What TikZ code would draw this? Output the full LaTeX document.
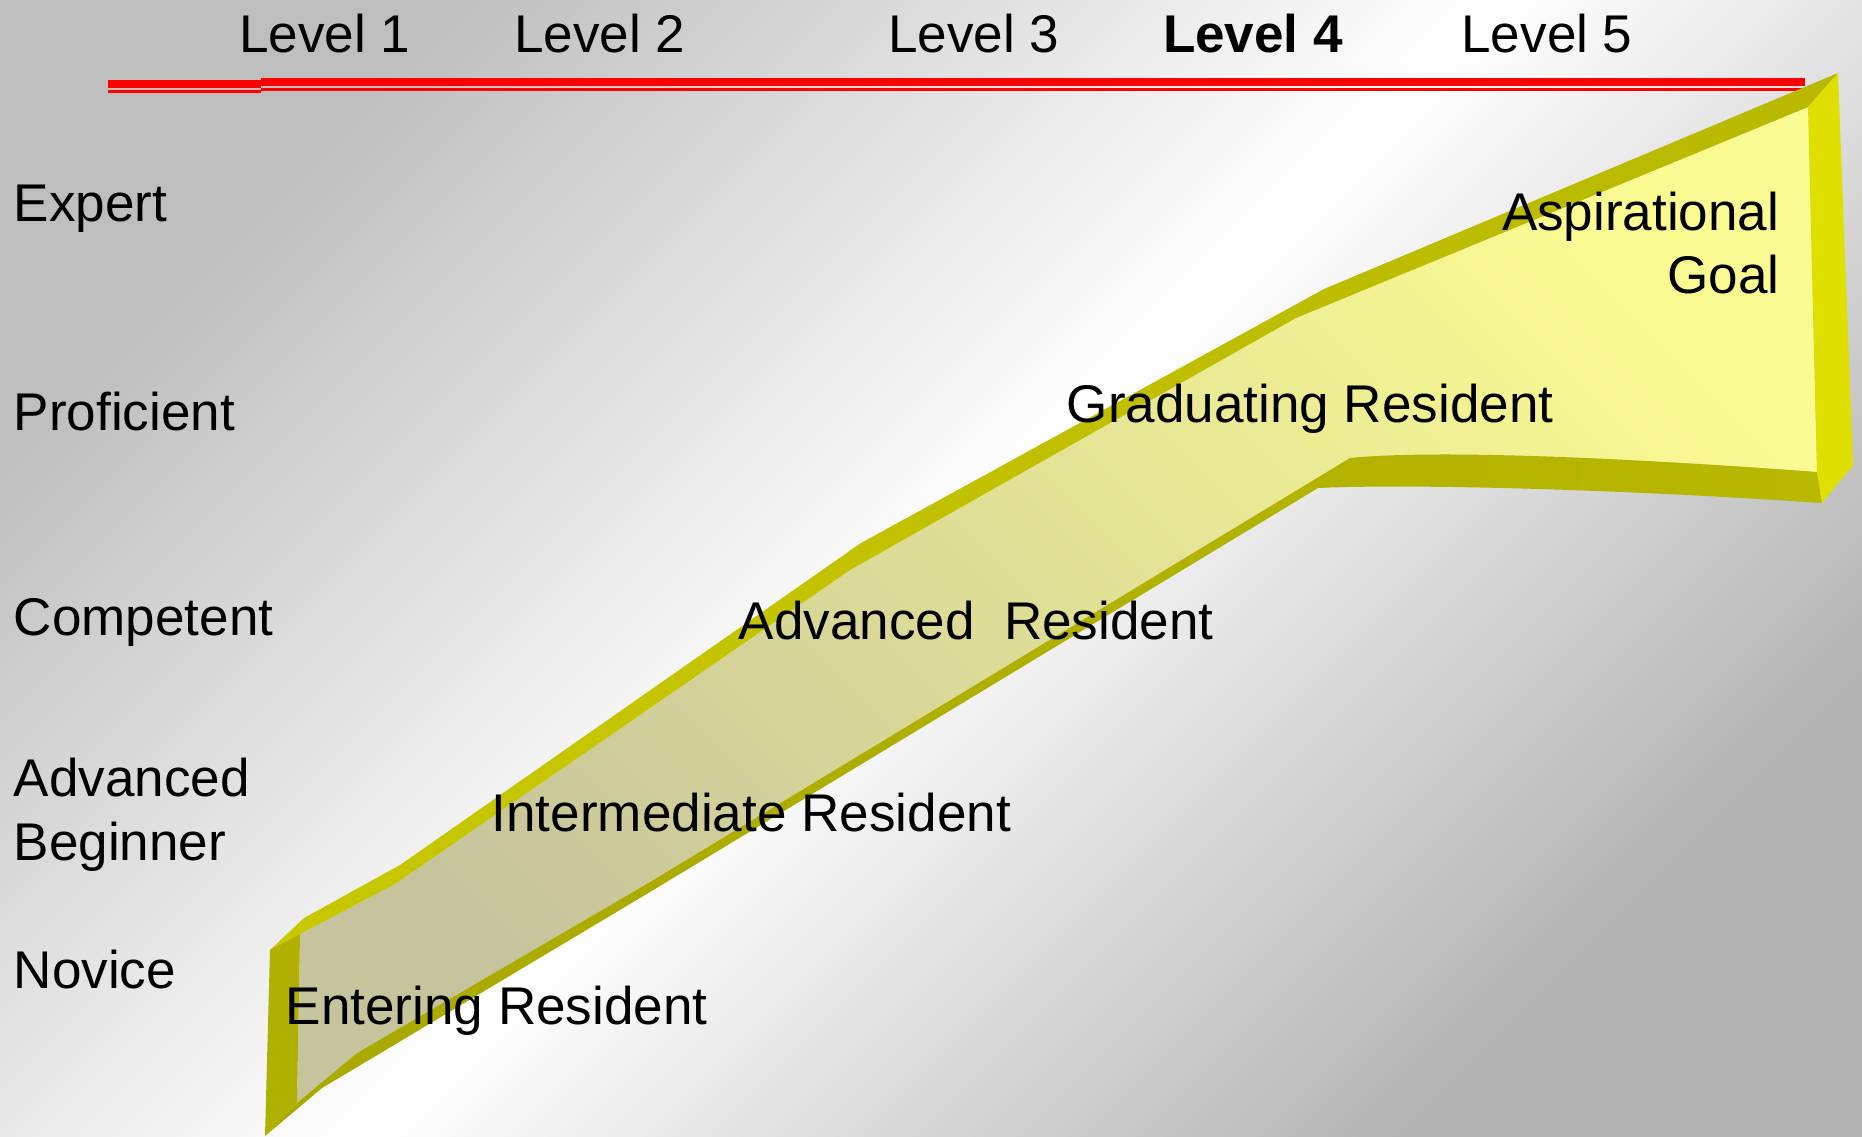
\documentclass[tikz,border=0pt]{standalone}
\usepackage{fontspec}
\setmainfont{Liberation Sans}
\usepackage{tikz}
\definecolor{backcorner}{HTML}{BEBEBE}
\definecolor{backlow}{HTML}{B2B2B2}
\definecolor{facelow}{HTML}{C6C49C}
\definecolor{facehigh}{HTML}{FAFA92}
\definecolor{rimlight}{HTML}{C8C800}
\definecolor{rimdark}{HTML}{B8B800}
\definecolor{rimlow}{HTML}{A8A800}
\definecolor{endleft}{HTML}{B0B000}
\definecolor{endright}{HTML}{E0E000}
\tikzstyle{lbl} = [inner sep=0pt, text=black, font=\fontsize{15.1}{18}\selectfont]
\tikzstyle{edge} = [line join=round]

\begin{document}
\begin{tikzpicture}[x=1cm, y=-1cm]
    \useasboundingbox (0,0) rectangle (18.62,11.36);
    \shade[top color=backcorner, bottom color=backlow, middle color=white, shading angle=45] (0,0) rectangle (18.62,11.36);

    % red rule under the levels
    \draw[red, line width=2.3pt] (1.08,0.84) -- (2.61,0.84);
    \draw[red, line width=0.85pt] (1.08,0.91) -- (2.61,0.91);
    \draw[red, line width=2.3pt] (2.61,0.82) -- (18.05,0.82);
    \draw[red, line width=0.85pt] (2.61,0.89) -- (18.05,0.89);

    % ribbon: face, top rim, bottom rim, two ends
    \shade[edge, top color=facehigh, bottom color=facelow, shading angle=-45]
        (3.00,9.34) -- (3.95,8.84) -- (8.50,5.70) -- (12.96,3.18) -- (18.08,1.07) -- (18.17,4.72)
        .. controls (16.00,4.56) and (14.30,4.50) .. (13.50,4.58)
        -- (6.50,8.82) -- (3.57,10.53) -- (2.97,11.03) -- cycle;
    \shade[edge, left color=rimlight, right color=rimdark]
        (2.70,9.50) -- (3.04,9.18) -- (4.00,8.65) -- (8.61,5.43) -- (13.24,2.89) -- (18.38,0.73)
        -- (18.08,1.07) -- (12.96,3.18) -- (8.50,5.70) -- (3.95,8.84) -- (3.00,9.34) -- cycle;
    \shade[edge, left color=rimlow, right color=rimdark]
        (2.97,11.03) -- (3.57,10.53) -- (6.50,8.82) -- (13.50,4.58)
        .. controls (14.30,4.50) and (16.00,4.56) .. (18.17,4.72)
        -- (18.22,5.03) .. controls (16.00,4.88) and (14.00,4.84) .. (13.18,4.88)
        -- (6.50,8.92) -- (3.22,10.88) -- (2.65,11.36) -- cycle;
    \fill[edge, endleft] (2.70,9.50) -- (3.00,9.34) -- (2.97,11.03) -- (2.65,11.36) -- cycle;
    \fill[edge, endright] (18.08,1.07) -- (18.38,0.73) -- (18.53,4.65) -- (18.22,5.03) -- (18.17,4.72) -- cycle;

    % levels
    \node[lbl, anchor=base] (lvl1) at (3.25,0.52) {Level 1};
    \node[lbl, anchor=base] (lvl2) at (6.00,0.52) {Level 2};
    \node[lbl, anchor=base] (lvl3) at (9.74,0.52) {Level 3};
    \node[lbl, anchor=base] (lvl4) at (12.53,0.52) {\bfseries Level 4};
    \node[lbl, anchor=base] (lvl5) at (15.47,0.52) {Level 5};

    % stages
    \node[lbl, anchor=base west] (expert) at (0.13,2.21) {Expert};
    \node[lbl, anchor=base west] (proficient) at (0.13,4.30) {Proficient};
    \node[lbl, anchor=base west] (competent) at (0.13,6.35) {Competent};
    \node[lbl, anchor=base west] (advanced) at (0.13,7.96) {Advanced};
    \node[lbl, anchor=base west] (beginner) at (0.13,8.60) {Beginner};
    \node[lbl, anchor=base west] (novice) at (0.13,9.88) {Novice};

    % residents along the ribbon
    \node[lbl, anchor=base west] (entering) at (2.85,10.24) {Entering Resident};
    \node[lbl, anchor=base west] (intermediate) at (4.91,8.31) {Intermediate Resident};
    \node[lbl, anchor=base west] (advres) at (7.38,6.39) {Advanced\ \ Resident};
    \node[lbl, anchor=base west] (graduating) at (10.66,4.22) {Graduating Resident};
    \node[lbl, anchor=base east] (aspirational) at (17.80,2.30) {Aspirational};
    \node[lbl, anchor=base east] (goal) at (17.80,2.93) {Goal};
\end{tikzpicture}
\end{document}
